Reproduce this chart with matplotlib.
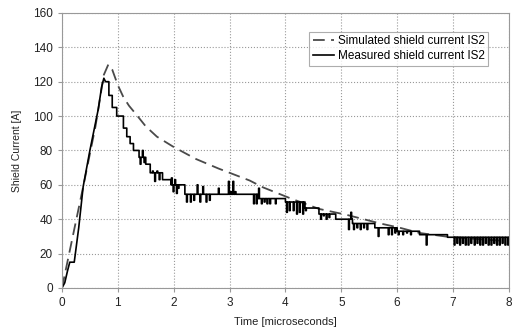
import numpy as np
import matplotlib
matplotlib.use("Agg")
import matplotlib.pyplot as plt

plt.rcParams['font.family'] = ['Liberation Sans', 'DejaVu Sans']

# simulated shield current (smooth curve)
sim_t = [0, 0.2, 0.4, 0.6, 0.75, 0.83, 0.9, 1.0, 1.1, 1.2, 1.34, 1.5, 1.7, 2.0, 2.4, 2.8,
         3.36, 3.6, 4.1, 4.6, 5.1, 5.7, 6.05, 6.4, 6.9, 7.5, 8.0]
sim_y = [0, 31, 62, 94, 124, 130, 127, 118, 111, 106, 100.5, 94, 88, 82, 75, 69.5,
         62.5, 58.5, 52, 46, 42.5, 37.5, 35, 32, 29.8, 28.3, 27.2]

# measured shield current: rising edge
rise_t = [0, 0.05, 0.1, 0.14, 0.22, 0.3, 0.38, 0.5, 0.65, 0.71, 0.75, 0.78]
rise_y = [0, 3, 10, 15, 15, 35, 59, 80, 104, 117, 122, 120]

# measured shield current: stepped decay (level starts at each time)
step_t = [0.78, 0.84, 0.9, 0.98, 1.1, 1.16, 1.22, 1.28, 1.38, 1.5, 1.58, 1.8, 1.95,
          2.2, 3.5, 4.0, 4.35, 4.6, 4.9, 5.2, 5.6, 6.0, 6.4, 6.9, 8.0]
step_y = [120, 112, 105, 100, 93, 88, 84, 80, 76, 72, 67, 63, 60,
          54.5, 52, 50, 46.5, 43, 40, 37.5, 35, 33, 31, 29.5, 29.5]

# measured noise spikes (time, value)
spike_t = [1.36, 1.4, 1.44, 1.47, 1.62, 1.66, 1.7, 1.74, 1.96, 1.99, 2.02, 2.05, 2.08,
           2.23, 2.3, 2.36, 2.42, 2.47, 2.52, 2.58, 2.64, 2.8, 2.98, 3.02, 3.06, 3.1,
           3.43, 3.48, 3.52, 3.57, 3.62, 3.67, 3.72, 3.82, 4.02, 4.07, 4.14, 4.2, 4.25,
           4.31, 4.36, 4.63, 4.68, 4.73, 4.78, 5.13, 5.17, 5.22, 5.28, 5.34, 5.4, 5.46,
           5.66, 5.84, 5.9, 5.96, 6.02, 6.1, 6.17, 6.24, 6.52,
           7.02, 7.07, 7.12, 7.17, 7.22, 7.27, 7.32, 7.38, 7.43, 7.48, 7.53, 7.58, 7.63,
           7.68, 7.73, 7.78, 7.83, 7.88, 7.93, 7.98]
spike_y = [80, 72, 80, 73, 68, 62, 68, 63, 64, 56, 63, 55, 58,
           50, 50, 51, 60, 50, 59, 50, 51, 58, 62, 56, 62, 56,
           49, 49, 58, 49, 50, 49, 49, 49, 44, 45, 45, 43, 44,
           43, 45, 40, 42, 40, 41, 34, 44, 34, 35, 34, 35, 34,
           30, 31, 31, 32, 31, 31, 32, 31, 25,
           25, 26, 25, 26, 25, 25, 26, 25, 26, 25, 25, 26, 25,
           25, 26, 25, 25, 26, 25, 25]


def level_at(t):
    i = np.searchsorted(step_t, t, side='right') - 1
    return step_y[max(i, 0)]


# build the measured trace: rise, then steps with spikes inserted
meas_t = list(rise_t)
meas_y = list(rise_y)
events = [(t, None) for t in step_t] + list(zip(spike_t, spike_y))
events.sort(key=lambda e: e[0])
for t, v in events:
    lvl = level_at(t)
    if v is None:
        meas_t += [t, t]
        meas_y += [meas_y[-1], lvl]
    else:
        w = 0.014
        meas_t += [t, t, t + w, t + w]
        meas_y += [lvl, v, v, lvl]

fig = plt.figure(figsize=(5.12, 3.31), dpi=100)
ax = fig.add_axes([0.121, 0.130, 0.873, 0.831])

ax.plot(sim_t, sim_y, color='#4a4a4a', lw=1.3, dashes=(6.5, 3.5),
        label='Simulated shield current IS2')
ax.plot(meas_t, meas_y, color='black', lw=1.2,
        label='Measured shield current IS2')

ax.set_xlim(0, 8)
ax.set_ylim(0, 160)
ax.set_xticks(range(0, 9))
ax.set_yticks(range(0, 161, 20))
ax.grid(True, color='#999999', linestyle=':', lw=0.8)
for s in ax.spines.values():
    s.set_color('#999999')
ax.tick_params(colors='#999999', labelcolor='#222222', labelsize=8.5, length=3)

ax.set_xlabel('Time [microseconds]', fontsize=8, color='#222222', labelpad=6)
ax.set_ylabel('Shield Current [A]', fontsize=7.5, color='#222222', labelpad=8)

leg = ax.legend(loc='upper right', bbox_to_anchor=(0.953, 0.931), borderaxespad=0,
                fontsize=8.5, handlelength=1.8, handletextpad=0.3,
                frameon=True, fancybox=False, borderpad=0.3, labelspacing=0.25)
leg.get_frame().set_edgecolor('#999999')
leg.get_frame().set_linewidth(0.8)

fig.savefig('out.png', dpi=100)
